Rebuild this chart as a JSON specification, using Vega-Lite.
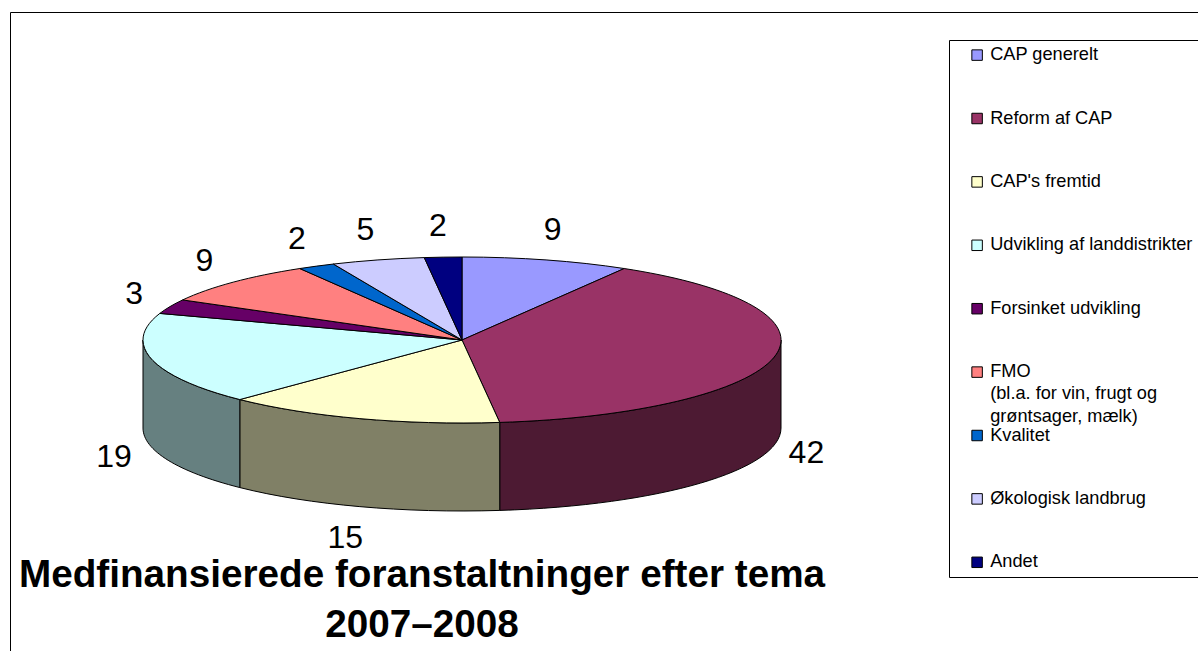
{
"$schema":"https://vega.github.io/schema/vega-lite/v6.json",
"width":1188,"height":639,
"padding":{"left":10,"top":12,"right":0,"bottom":0},
"autosize":{"type":"none"},
"background":"white",
"config":{"view":{"stroke":"black","strokeWidth":1,"fill":null},"font":"Liberation Sans"},
"title":{"text":["Medfinansierede foranstaltninger efter tema","2007–2008"],"orient":"bottom","anchor":"middle","dx":-182,"dy":-99,"fontSize":38.7,"lineHeight":50,"font":"Liberation Sans","fontWeight":"bold","color":"black"},
"data":{"values":[
{"tema":"CAP generelt","value":9},
{"tema":"Reform af CAP","value":42},
{"tema":"CAP's fremtid","value":15},
{"tema":"Udvikling af landdistrikter","value":19},
{"tema":"Forsinket udvikling","value":3},
{"tema":"FMO|(bl.a. for vin, frugt og|grøntsager, mælk)","value":9},
{"tema":"Kvalitet","value":2},
{"tema":"Økologisk landbrug","value":5},
{"tema":"Andet","value":2}
]},
"transform":[
{"joinaggregate":[{"op":"sum","field":"value","as":"total"}]},
{"stack":"value","groupby":[],"offset":"zero","as":["v0","v1"]},
{"calculate":"2*PI*datum.v0/datum.total","as":"t0"},
{"calculate":"2*PI*datum.v1/datum.total","as":"t1"},
{"calculate":"(datum.t0+datum.t1)/2","as":"tm"},
{"calculate":"'M0,0L'+319*sin(datum.t0)+','+(-83*cos(datum.t0))+'A319,83 0 '+(datum.t1-datum.t0>PI?1:0)+' 1 '+319*sin(datum.t1)+','+(-83*cos(datum.t1))+'Z'","as":"top"},
{"calculate":"max(datum.t0,PI/2)","as":"a"},
{"calculate":"min(datum.t1,3*PI/2)","as":"b"},
{"calculate":"'M'+319*sin(datum.a)+','+(-83*cos(datum.a))+'A319,83 0 0 1 '+319*sin(datum.b)+','+(-83*cos(datum.b))+'L'+319*sin(datum.b)+','+(88-83*cos(datum.b))+'A319,83 0 0 0 '+319*sin(datum.a)+','+(88-83*cos(datum.a))+'Z'","as":"wall"},
{"calculate":"355*sin(datum.tm)-3","as":"lx"},
{"calculate":"114*cos(datum.tm)-(cos(datum.tm)<0?90:0)","as":"ly"}
],
"layer":[
{"transform":[{"filter":"datum.a<datum.b"}],
 "mark":{"type":"point","filled":true,"size":4,"opacity":1,"stroke":"black","strokeWidth":1},
 "encoding":{
  "x":{"datum":0,"type":"quantitative","scale":{"domain":[-452,736],"nice":false,"zero":false},"axis":null},
  "y":{"datum":0,"type":"quantitative","scale":{"domain":[-311,328],"nice":false,"zero":false},"axis":null},
  "shape":{"field":"wall","type":"nominal","scale":null},
  "color":{"field":"tema","type":"nominal","legend":null,"sort":null,
   "scale":{"domain":["Reform af CAP","CAP's fremtid","Udvikling af landdistrikter"],"range":["#4d1a33","#808066","#668080"]}}
 }},
{"mark":{"type":"point","filled":true,"size":4,"opacity":1,"stroke":"black","strokeWidth":1},
 "encoding":{
  "x":{"datum":0,"type":"quantitative","scale":{"domain":[-452,736],"nice":false,"zero":false},"axis":null},
  "y":{"datum":0,"type":"quantitative","scale":{"domain":[-311,328],"nice":false,"zero":false},"axis":null},
  "shape":{"field":"top","type":"nominal","scale":null},
  "color":{"field":"tema","type":"nominal","sort":null,
   "scale":{"domain":["CAP generelt","Reform af CAP","CAP's fremtid","Udvikling af landdistrikter","Forsinket udvikling","FMO|(bl.a. for vin, frugt og|grøntsager, mælk)","Kvalitet","Økologisk landbrug","Andet"],
    "range":["#9999ff","#993366","#ffffcc","#ccffff","#660066","#ff8080","#0066cc","#ccccff","#000080"]},
   "legend":{"title":null,"orient":"none","legendX":939,"legendY":28,"columns":1,"gridAlign":"all","padding":6,"rowPadding":0.4,
    "fillColor":"white","strokeColor":"black",
    "symbolType":"square","symbolSize":110,"symbolStrokeColor":"black","symbolStrokeWidth":1,"symbolOffset":13,
    "labelFont":"Liberation Sans","labelFontSize":18.2,"labelColor":"black","labelLimit":400,"labelBaseline":"middle",
    "labelExpr":"split(datum.label,'|')",
    "encoding":{"labels":{"lineHeight":{"value":22.3}}}}}
 }},
{"mark":{"type":"text","font":"Liberation Sans","fontSize":32,"color":"black","baseline":"middle","align":"center"},
 "encoding":{
  "x":{"field":"lx","type":"quantitative","scale":{"domain":[-452,736],"nice":false,"zero":false},"axis":null},
  "y":{"field":"ly","type":"quantitative","scale":{"domain":[-311,328],"nice":false,"zero":false},"axis":null},
  "text":{"field":"value","type":"quantitative"}
 }}
],
"resolve":{"scale":{"color":"independent"}}
}
